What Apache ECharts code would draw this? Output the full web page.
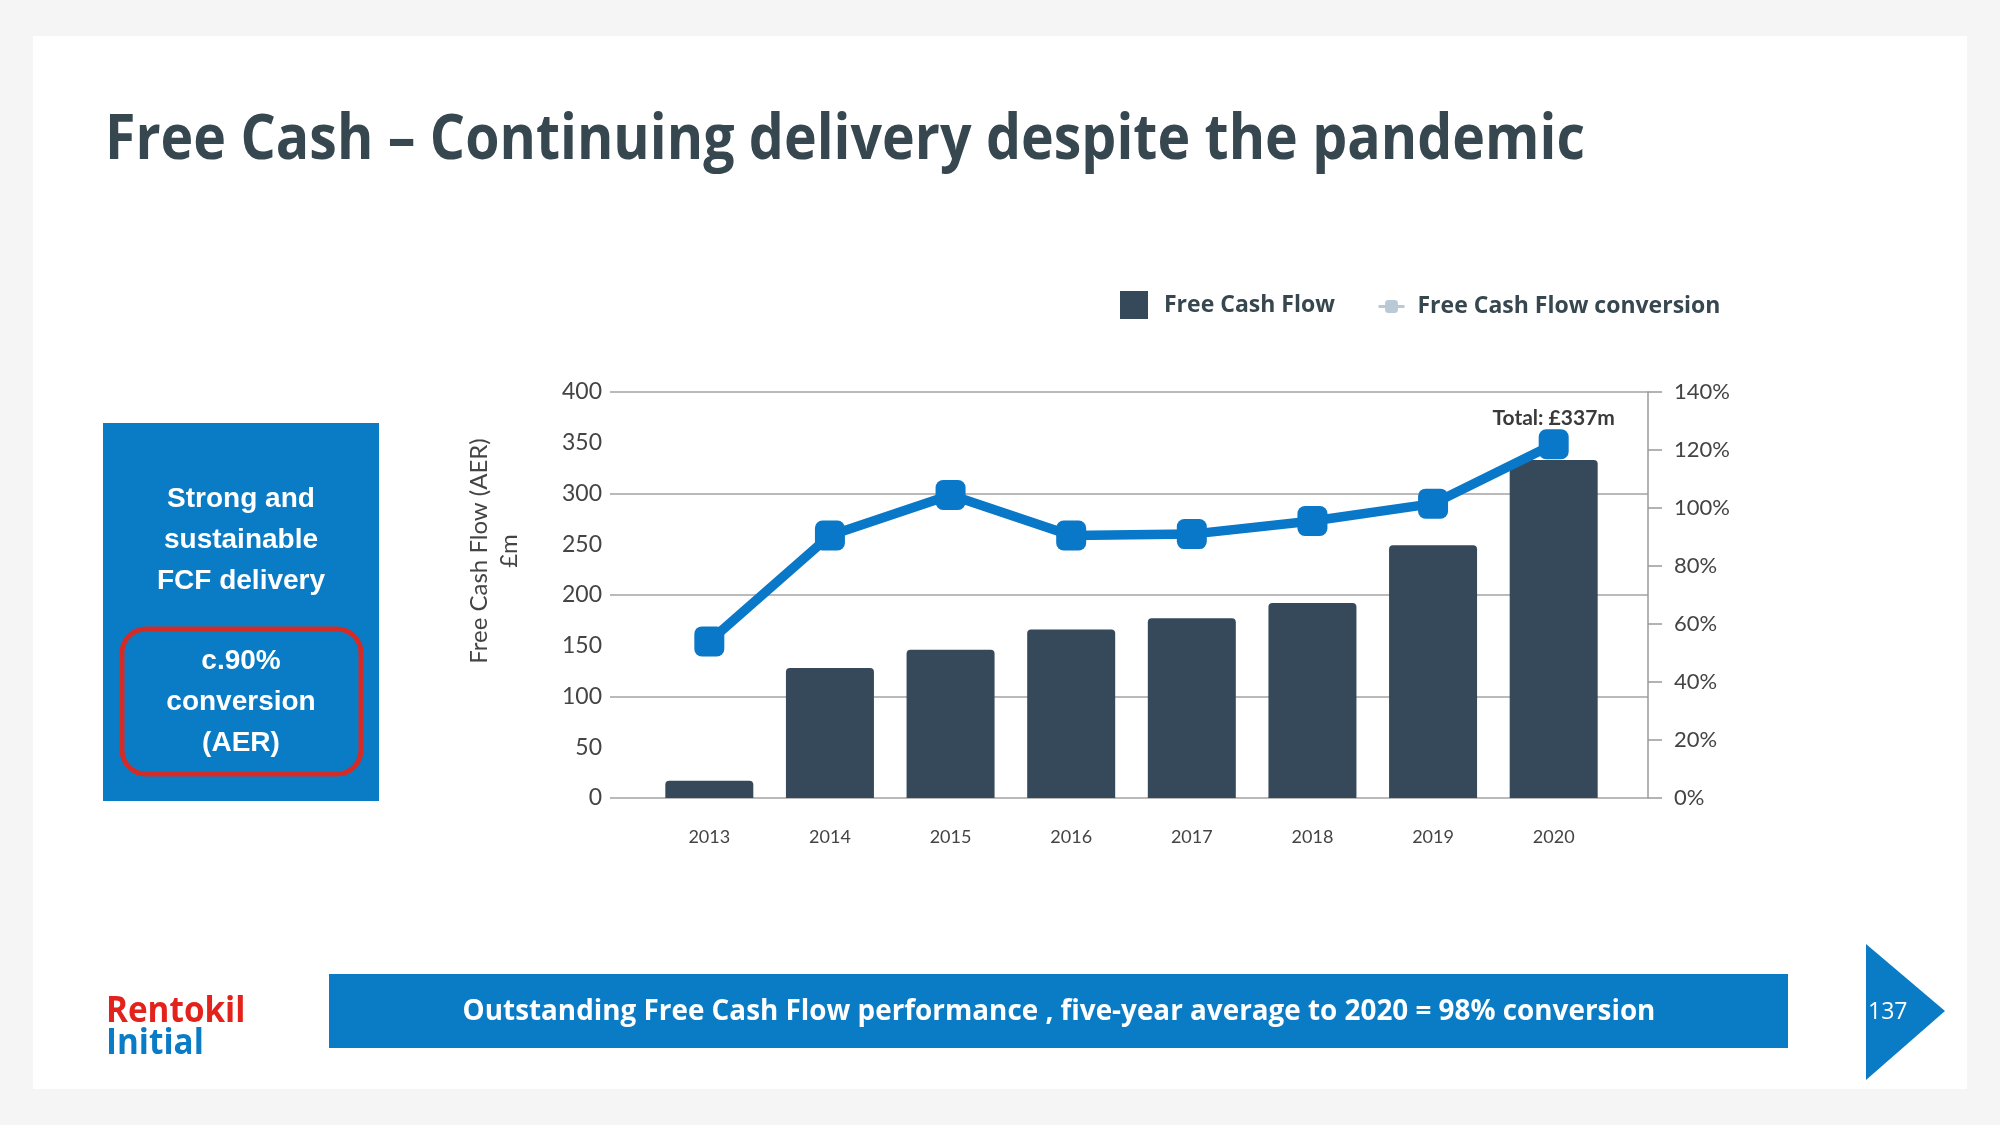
<!DOCTYPE html>
<html><head><meta charset="utf-8">
<script src="https://cdn.jsdelivr.net/npm/echarts@6/dist/echarts.min.js"></script>
<style>html,body{margin:0;padding:0;background:#f5f5f5}#c{width:2000px;height:1125px}</style>
</head><body><div id="c"></div>
<script>
// ---- data ----
const years = ['2013', '2014', '2015', '2016', '2017', '2018', '2019', '2020'];
const freeCashFlow = [17, 128, 146, 166, 177, 192, 249, 333];          // £m
const fcfConversion = [54, 90.5, 104.5, 90.5, 91, 95.5, 101.5, 122];   // %
const totalLabel = 'Total: £337m';
const leftAxisMax = 400, leftAxisStep = 50, leftGridStep = 100;
const rightAxisMax = 140, rightAxisStep = 20;
const seriesNames = ['Free Cash Flow', 'Free Cash Flow conversion'];
const titleText = 'Free Cash – Continuing delivery despite the pandemic';
const boxLines1 = ['Strong and', 'sustainable', 'FCF delivery'];
const boxLines2 = ['c.90%', 'conversion', '(AER)'];
const bannerText = 'Outstanding Free Cash Flow performance , five-year average to 2020 = 98% conversion';
const pageNo = '137';

const BLUE = '#0a7cc6', DARK = '#37474f', BAR = '#36495a', LINE = '#0a78c8';
const AX_FONT = 'Lato, "Open Sans", sans-serif';

const chart = echarts.init(document.getElementById('c'));

const graphics = [
  // outer gray margins of the slide
  { type: 'rect', shape: { x: 0, y: 0, width: 2000, height: 36 }, style: { fill: '#f5f5f5' } },
  { type: 'rect', shape: { x: 0, y: 1089, width: 2000, height: 36 }, style: { fill: '#f5f5f5' } },
  { type: 'rect', shape: { x: 0, y: 0, width: 33, height: 1125 }, style: { fill: '#f5f5f5' } },
  { type: 'rect', shape: { x: 1967, y: 0, width: 33, height: 1125 }, style: { fill: '#f5f5f5' } },
  // title
  { type: 'text', x: 105, y: 141, scaleX: 0.88,
    style: { text: titleText, fill: DARK, font: 'bold 63px "Open Sans", sans-serif', align: 'left', verticalAlign: 'middle' } },
  // left blue box
  { type: 'rect', shape: { x: 103, y: 423, width: 276, height: 378 }, style: { fill: BLUE } },
  { type: 'rect', shape: { x: 122, y: 629, width: 239, height: 145, r: 24 }, style: { fill: 'none', stroke: '#d52b26', lineWidth: 5 } },
  // bottom banner
  { type: 'rect', shape: { x: 329, y: 974, width: 1459, height: 74 }, style: { fill: BLUE } },
  { type: 'text', x: 1059, y: 1012, scaleX: 0.96,
    style: { text: bannerText, fill: '#fff', font: 'bold 29px "Open Sans", sans-serif', align: 'center', verticalAlign: 'middle' } },
  // page arrow
  { type: 'polygon', shape: { points: [[1866, 944], [1945, 1011], [1866, 1080]] }, style: { fill: BLUE } },
  { type: 'text', x: 1868, y: 1012, style: { text: pageNo, fill: '#fff', font: '23px "Open Sans", sans-serif', align: 'left', verticalAlign: 'middle' } },
  // logo
  { type: 'text', x: 106, y: 1012, scaleX: 0.95,
    style: { text: 'Rentokil', fill: '#e3231b', font: 'bold 35px "Open Sans", sans-serif', align: 'left', verticalAlign: 'middle' } },
  { type: 'text', x: 106, y: 1044, scaleX: 0.95,
    style: { text: 'Initial', fill: BLUE, font: 'bold 35px "Open Sans", sans-serif', align: 'left', verticalAlign: 'middle' } }
];
boxLines1.forEach((t, i) => graphics.push({ type: 'text', x: 241, y: 499 + i * 41,
  style: { text: t, fill: '#fff', font: 'bold 28px "Liberation Sans", Arial, sans-serif', align: 'center', verticalAlign: 'middle' } }));
boxLines2.forEach((t, i) => graphics.push({ type: 'text', x: 241, y: 661 + i * 41,
  style: { text: t, fill: '#fff', font: 'bold 28px "Liberation Sans", Arial, sans-serif', align: 'center', verticalAlign: 'middle' } }));

const option = {
  backgroundColor: '#ffffff',
  animation: false,
  graphic: { elements: graphics },
  legend: [
    { data: [{ name: seriesNames[0], icon: 'rect' }], left: 1115, top: 286, itemWidth: 28, itemHeight: 28,
      textStyle: { fontSize: 23, fontWeight: 'bold', color: DARK, fontFamily: '"Open Sans", sans-serif', padding: [0, 0, 0, 11] } },
    { data: [{ name: seriesNames[1], itemStyle: { color: '#b9cad6' }, lineStyle: { color: '#b9cad6', width: 3 } }],
      left: 1372, top: 290, itemWidth: 26, itemHeight: 16,
      textStyle: { fontSize: 23, fontWeight: 'bold', color: DARK, fontFamily: '"Open Sans", sans-serif', padding: [0, 0, 0, 8] } }
  ],
  grid: [
    { left: 610, right: 352, top: 392, bottom: 327 },
    { left: 649, right: 386, top: 392, bottom: 327 }
  ],
  xAxis: [
    { gridIndex: 0, type: 'category', data: years, show: false },
    { gridIndex: 1, type: 'category', data: years,
      axisLine: { show: false }, axisTick: { show: false },
      axisLabel: { margin: 30, fontSize: 18, color: '#444', fontFamily: AX_FONT } }
  ],
  yAxis: [
    { gridIndex: 0, type: 'value', min: 0, max: leftAxisMax, interval: leftGridStep,
      axisLabel: { show: false }, axisLine: { show: false }, axisTick: { show: false },
      splitLine: { show: true, lineStyle: { color: '#a3a3a3', width: 1.5 } } },
    { gridIndex: 0, type: 'value', position: 'left', min: 0, max: leftAxisMax, interval: leftAxisStep,
      axisLine: { show: false }, axisTick: { show: false }, splitLine: { show: false },
      axisLabel: { margin: 8, fontSize: 23, color: '#444', fontFamily: AX_FONT },
      name: 'Free Cash Flow (AER)\n£m', nameLocation: 'middle', nameRotate: 90, nameGap: 86,
      nameTextStyle: { fontSize: 24, color: '#444', fontFamily: AX_FONT, lineHeight: 30, align: 'center', padding: [0, 0, 0, 88] } },
    { gridIndex: 0, type: 'value', position: 'right', min: 0, max: rightAxisMax, interval: rightAxisStep,
      axisLine: { show: true, lineStyle: { color: '#9a9a9a', width: 1.5 } },
      axisTick: { show: true, length: 14, lineStyle: { color: '#9a9a9a', width: 1.5 } },
      splitLine: { show: false },
      axisLabel: { margin: 26, fontSize: 22, color: '#444', fontFamily: AX_FONT, formatter: '{value}%' } },
    { gridIndex: 1, type: 'value', min: 0, max: leftAxisMax, show: false, splitLine: { show: false } },
    { gridIndex: 1, type: 'value', min: 0, max: rightAxisMax, show: false, splitLine: { show: false } }
  ],
  series: [
    { name: seriesNames[0], type: 'bar', xAxisIndex: 1, yAxisIndex: 3, data: freeCashFlow,
      barWidth: 88, itemStyle: { color: BAR, borderRadius: [4, 4, 0, 0] } },
    { name: seriesNames[1], type: 'line', xAxisIndex: 1, yAxisIndex: 4,
      data: fcfConversion.map((v, i) => i === fcfConversion.length - 1
        ? { value: v, label: { show: true, position: 'top', distance: 0, formatter: totalLabel,
            fontSize: 21, fontWeight: 'bold', color: '#3a3a3a', fontFamily: AX_FONT } }
        : v),
      color: LINE, lineStyle: { width: 9.5, color: LINE },
      symbol: 'roundRect', symbolSize: 30, itemStyle: { color: LINE } }
  ]
};
chart.setOption(option);
</script>
</body></html>
